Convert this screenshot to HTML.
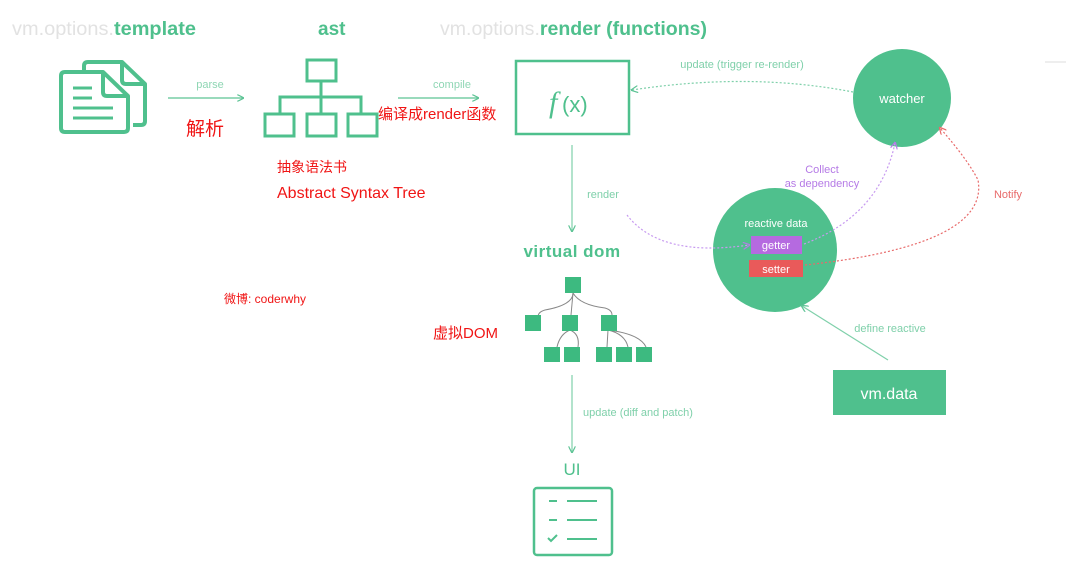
<!DOCTYPE html>
<html><head><meta charset="utf-8"><style>
html,body{margin:0;padding:0;background:#fff;}
svg{display:block;font-family:"Liberation Sans","Noto Sans CJK SC",sans-serif;}
</style></head><body>
<svg width="1066" height="572" viewBox="0 0 1066 572" xmlns="http://www.w3.org/2000/svg">
<defs>
<marker id="ag" markerWidth="6" markerHeight="6" refX="5" refY="3" orient="auto"><path d="M0,0 L6,3 L0,6" fill="none" stroke="#5cc394" stroke-width="1"/></marker>
<marker id="ap" markerWidth="6" markerHeight="6" refX="5" refY="3" orient="auto"><path d="M0,0 L6,3 L0,6" fill="none" stroke="#b57ae6" stroke-width="1"/></marker>
<marker id="ar" markerWidth="6" markerHeight="6" refX="5" refY="3" orient="auto"><path d="M0,0 L6,3 L0,6" fill="none" stroke="#e86a6a" stroke-width="1"/></marker>
</defs>
<text x="12" y="35" font-size="19" fill="#e2e2e2" textLength="184" lengthAdjust="spacingAndGlyphs">vm.options.<tspan fill="#4fc08d" font-weight="bold">template</tspan></text>
<text x="318" y="35" font-size="19" fill="#4fc08d" font-weight="bold">ast</text>
<text x="440" y="35" font-size="19" fill="#e2e2e2" textLength="267" lengthAdjust="spacingAndGlyphs">vm.options.<tspan fill="#4fc08d" font-weight="bold">render (functions)</tspan></text>
<line x1="1045" y1="62" x2="1066" y2="62" stroke="#eee" stroke-width="2"/>
<g fill="none" stroke="#4fc08d" stroke-width="4" stroke-linejoin="round">
<path d="M84,72 L84,66 Q84,62 88,62 L122,62 L145,84 L145,121 Q145,125 141,125 L133,125"/>
<path d="M122,62 L122,80 Q122,84 126,84 L145,84"/>
<path d="M65,72 L103,72 L128,96 L128,128 Q128,132 124,132 L65,132 Q61,132 61,128 L61,76 Q61,72 65,72 Z" fill="#fff"/>
<path d="M103,72 L103,92 Q103,96 107,96 L128,96"/>
<line x1="73" y1="88" x2="92" y2="88" stroke-width="3"/>
<line x1="73" y1="98" x2="92" y2="98" stroke-width="3"/>
<line x1="73" y1="108" x2="113" y2="108" stroke-width="3"/>
<line x1="73" y1="118" x2="113" y2="118" stroke-width="3"/>
</g>
<line x1="168" y1="98" x2="243" y2="98" stroke="#5cc394" stroke-width="1.2" marker-end="url(#ag)"/>
<text x="210" y="88" font-size="11" fill="#8fd6b4" text-anchor="middle">parse</text>
<text x="186" y="135" font-size="19" fill="#f01515">解析</text>
<g fill="none" stroke="#4fc08d" stroke-width="3">
<rect x="307" y="60" width="29" height="21"/>
<path d="M321,81 L321,114 M280,114 L280,97 L361,97 L361,114"/>
<rect x="265" y="114" width="29" height="22"/>
<rect x="307" y="114" width="29" height="22"/>
<rect x="348" y="114" width="29" height="22"/>
</g>
<text x="277" y="172" font-size="14" fill="#f01515">抽象语法书</text>
<text x="277" y="198" font-size="16" fill="#f01515">Abstract Syntax Tree</text>
<line x1="398" y1="98" x2="478" y2="98" stroke="#5cc394" stroke-width="1.2" marker-end="url(#ag)"/>
<text x="452" y="88" font-size="11" fill="#8fd6b4" text-anchor="middle">compile</text>
<text x="378" y="119" font-size="15" fill="#f01515">编译成render函数</text>
<rect x="516" y="61" width="113" height="73" fill="none" stroke="#4fc08d" stroke-width="2.5"/>
<text x="549" y="112" font-size="30" font-style="italic" fill="#4fc08d" font-family="Liberation Serif,serif">f</text>
<text x="562" y="112" font-size="22" fill="#4fc08d">(x)</text>
<circle cx="902" cy="98" r="49" fill="#4fc08d"/>
<text x="902" y="103" font-size="13" fill="#fff" text-anchor="middle">watcher</text>
<path d="M853,92 Q750,72 632,90" fill="none" stroke="#7fd0aa" stroke-width="1.2" stroke-dasharray="2,2" marker-end="url(#ag)"/>
<text x="742" y="68" font-size="11" fill="#7fd0aa" text-anchor="middle">update (trigger re-render)</text>
<line x1="572" y1="145" x2="572" y2="231" stroke="#7fd0aa" stroke-width="1.2" marker-end="url(#ag)"/>
<text x="603" y="198" font-size="11" fill="#7fd0aa" text-anchor="middle">render</text>
<text x="572" y="257" font-size="17" fill="#4fc08d" text-anchor="middle" font-weight="bold" letter-spacing="0.5">virtual dom</text>
<circle cx="775" cy="250" r="62" fill="#4fc08d"/>
<text x="776" y="227" font-size="11" fill="#fff" text-anchor="middle">reactive data</text>
<rect x="751" y="236" width="51" height="18" fill="#b56ae0"/>
<text x="776" y="249" font-size="11" fill="#fff" text-anchor="middle">getter</text>
<rect x="749" y="260" width="54" height="17" fill="#e95a5a"/>
<text x="776" y="273" font-size="11" fill="#fff" text-anchor="middle">setter</text>
<path d="M627,215 Q660,258 749,245" fill="none" stroke="#c79af0" stroke-width="1.2" stroke-dasharray="2,2" marker-end="url(#ap)"/>
<path d="M804,244 Q880,215 895,143" fill="none" stroke="#c79af0" stroke-width="1.2" stroke-dasharray="2,2" marker-end="url(#ap)"/>
<text x="822" y="173" font-size="11" fill="#b57ae6" text-anchor="middle">Collect</text>
<text x="822" y="187" font-size="11" fill="#b57ae6" text-anchor="middle">as dependency</text>
<path d="M805,265 Q990,245 978,180 Q968,160 940,128" fill="none" stroke="#e86a6a" stroke-width="1.2" stroke-dasharray="2,2" marker-end="url(#ar)"/>
<text x="1008" y="198" font-size="11" fill="#e86a6a" text-anchor="middle">Notify</text>
<rect x="833" y="370" width="113" height="45" fill="#4fc08d"/>
<text x="889" y="399" font-size="16" fill="#fff" text-anchor="middle">vm.data</text>
<line x1="888" y1="360" x2="802" y2="306" stroke="#7fd0aa" stroke-width="1.2" marker-end="url(#ag)"/>
<text x="890" y="332" font-size="11" fill="#7fd0aa" text-anchor="middle">define reactive</text>
<text x="224" y="303" font-size="12" fill="#f01515">微博: coderwhy</text>
<text x="433" y="338" font-size="15" fill="#f01515">虚拟DOM</text>
<g fill="none" stroke="#888" stroke-width="1">
<path d="M573,293 Q573,305 545,310 Q538,312 538,317"/>
<path d="M573,293 L571,315"/>
<path d="M573,293 Q580,305 605,308 Q612,310 612,315"/>
<path d="M570,330 Q560,334 557,347 M570,330 Q580,334 578,347"/>
<path d="M608,330 L607,347 M608,330 Q625,334 628,347 M608,330 Q640,334 646,347"/>
</g>
<g fill="#3dba80">
<rect x="565" y="277" width="16" height="16"/>
<rect x="525" y="315" width="16" height="16"/>
<rect x="562" y="315" width="16" height="16"/>
<rect x="601" y="315" width="16" height="16"/>
<rect x="544" y="347" width="16" height="15"/>
<rect x="564" y="347" width="16" height="15"/>
<rect x="596" y="347" width="16" height="15"/>
<rect x="616" y="347" width="16" height="15"/>
<rect x="636" y="347" width="16" height="15"/>
</g>
<line x1="572" y1="375" x2="572" y2="452" stroke="#7fd0aa" stroke-width="1.2" marker-end="url(#ag)"/>
<text x="583" y="416" font-size="11" fill="#7fd0aa">update (diff and patch)</text>
<text x="572" y="475" font-size="17" fill="#4fc08d" text-anchor="middle">UI</text>
<rect x="534" y="488" width="78" height="67" rx="3" fill="none" stroke="#4fc08d" stroke-width="2.5"/>
<g stroke="#4fc08d" stroke-width="2">
<line x1="549" y1="501" x2="557" y2="501"/><line x1="567" y1="501" x2="597" y2="501"/>
<line x1="549" y1="520" x2="557" y2="520"/><line x1="567" y1="520" x2="597" y2="520"/>
<path d="M548,538 L551,541 L557,535" fill="none"/><line x1="567" y1="539" x2="597" y2="539"/>
</g>
</svg>
</body></html>
